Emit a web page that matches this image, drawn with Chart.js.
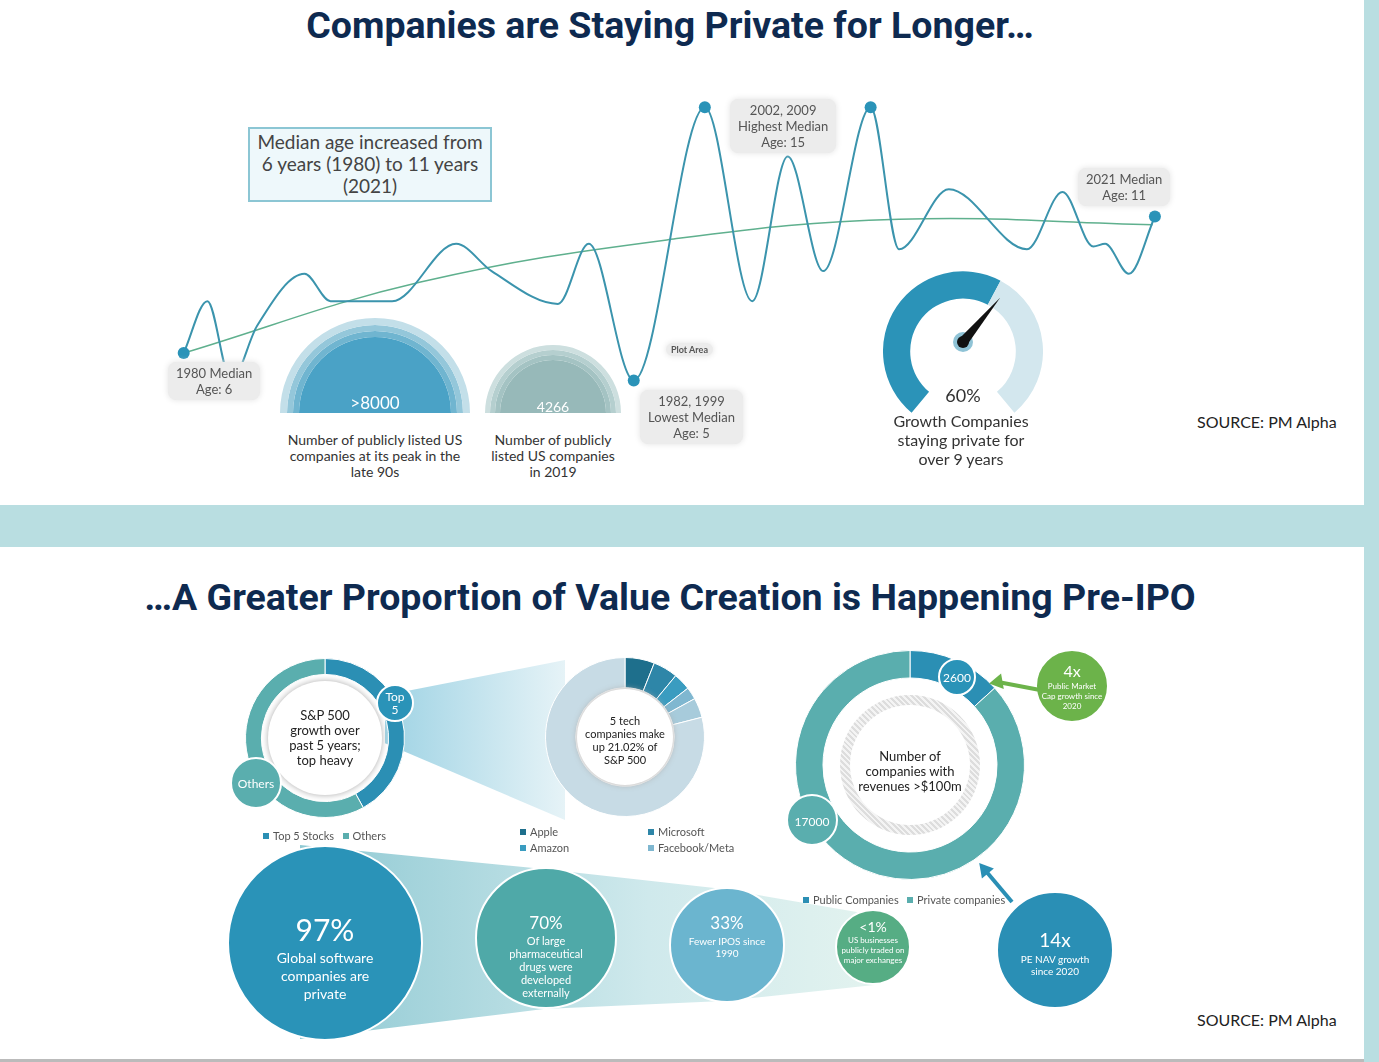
<!DOCTYPE html>
<html>
<head>
<meta charset="utf-8">
<script src="https://cdn.jsdelivr.net/npm/chart.js@4"></script>
<style>
  body { margin: 0; width: 1379px; height: 1062px; position: relative; background: #fff; font-family: Lato, 'Open Sans', sans-serif; overflow: hidden; }
  .abs { position: absolute; }
  .title { position: absolute; left: 0; width: 1340px; text-align: center; font-family: Roboto, sans-serif; font-weight: 700; font-size: 37.5px; color: #0e2a50; }
  .tag { position: absolute; background: #ececec; border-radius: 8px; color: #555; font-size: 13px; text-align: center; line-height: 16px; padding: 3px 8px; box-shadow: 0 0 6px #e2e2e2; }
  .cap { position: absolute; text-align: center; color: #333; font-size: 14px; line-height: 16px; transform: translateX(-50%); }
  .ctr { position: absolute; transform: translate(-50%, -50%); text-align: center; }
  .wt { color: #fff; }
  .leg { position: absolute; font-size: 11px; color: #555; white-space: nowrap; }
  .leg b { display: inline-block; width: 6px; height: 6px; margin-right: 4px; vertical-align: 1px; }
  canvas { position: absolute; }
</style>
</head>
<body>
<div class="abs" style="left:0;top:505px;width:1379px;height:42px;background:#b9dee1"></div>
<div class="abs" style="left:1364px;top:0;width:15px;height:1062px;background:#b9dee1"></div>
<div class="abs" style="left:0;top:1059px;width:1364px;height:3px;background:#bbb"></div>

<div class="title" style="top:3px">Companies are Staying Private for Longer…</div>
<div class="title" style="top:575px">…A Greater Proportion of Value Creation is Happening Pre-IPO</div>

<div class="abs" style="left:1197px;top:412px;font-size:16px;color:#222">SOURCE: PM Alpha</div>
<div class="abs" style="left:1197px;top:1010px;font-size:16px;color:#222">SOURCE: PM Alpha</div>

<!-- top panel -->
<div class="abs" style="left:248px;top:127px;width:240px;height:69px;border:2px solid #8cc6d4;background:#eef8fb;text-align:center;font-size:19px;line-height:22px;color:#444;padding-top:2px">Median age increased from 6 years (1980) to 11 years (2021)</div>

<canvas id="age" style="left:160px;top:90px"></canvas>
<canvas id="peak" style="left:280px;top:318px"></canvas>
<canvas id="now" style="left:485px;top:345px"></canvas>
<canvas id="gauge" style="left:883px;top:262px"></canvas>

<div class="tag" style="left:168px;top:362px">1980 Median<br>Age: 6</div>
<div class="tag" style="left:730px;top:99px">2002, 2009<br>Highest Median<br>Age: 15</div>
<div class="tag" style="left:1078px;top:168px">2021 Median<br>Age: 11</div>
<div class="tag" style="left:640px;top:390px">1982, 1999<br>Lowest Median<br>Age: 5</div>
<div class="tag" style="left:666px;top:343px;font-size:9px;line-height:11px;padding:1px 5px;font-weight:700">Plot Area</div>

<div class="ctr wt" style="left:375px;top:402px;font-size:17px">&gt;8000</div>
<div class="ctr wt" style="left:553px;top:406px;font-size:14px">4266</div>
<div class="cap" style="left:375px;top:432px;width:190px">Number of publicly listed US companies at its peak in the late 90s</div>
<div class="cap" style="left:553px;top:432px;width:130px">Number of publicly listed US companies in 2019</div>
<div class="ctr" style="left:963px;top:395px;font-size:18px;color:#333">60%</div>
<div class="cap" style="left:961px;top:411px;width:150px;font-size:16px;line-height:19px">Growth Companies staying private for over 9 years</div>

<!-- bottom panel: cones -->
<div class="abs" style="left:385px;top:660px;width:180px;height:160px;clip-path:polygon(0 22%,100% 0,100% 100%,0 52%);background:linear-gradient(90deg,#9fd3e4,#e6f3f7)"></div>
<div class="abs" style="left:300px;top:845px;width:580px;height:200px;clip-path:polygon(0 0,42% 12%,73% 22%,99% 35%,99% 70%,73% 78%,42% 82%,0 97%);background:linear-gradient(90deg,#8fc9d3,#cfe9ec 60%,#e3f3ef)"></div>

<canvas id="sp" style="left:245px;top:658px"></canvas>
<canvas id="tech" style="left:545px;top:657px"></canvas>
<canvas id="rev" style="left:795px;top:650px"></canvas>

<div class="abs" style="left:268px;top:681px;width:114px;height:114px;border-radius:50%;background:#fff;box-shadow:0 0 6px #aaa"></div>
<div class="abs" style="left:577px;top:689px;width:96px;height:96px;border-radius:50%;background:#fff;box-shadow:0 0 6px #aaa"></div>
<div class="abs" style="left:840px;top:695px;width:140px;height:140px;border-radius:50%;background:repeating-linear-gradient(45deg,#ddd 0 2px,#f4f4f4 2px 4px)"></div>
<div class="abs" style="left:850px;top:705px;width:120px;height:120px;border-radius:50%;background:#fff"></div>

<canvas id="bubbles" style="left:0;top:547px"></canvas>

<div class="ctr" style="left:325px;top:738px;font-size:13px;line-height:15px;color:#222;width:90px">S&amp;P 500 growth over past 5 years; top heavy</div>
<div class="ctr" style="left:625px;top:740px;font-size:11px;line-height:13px;color:#222;width:80px">5 tech companies make up 21.02% of S&amp;P 500</div>
<div class="ctr" style="left:910px;top:771px;font-size:13px;line-height:15px;color:#222;width:110px">Number of companies with revenues &gt;$100m</div>
<div class="ctr wt" style="left:395px;top:703px;font-size:12px;line-height:13px">Top<br>5</div>
<div class="ctr wt" style="left:256px;top:783px;font-size:12px">Others</div>
<div class="ctr wt" style="left:957px;top:677px;font-size:12px">2600</div>
<div class="ctr wt" style="left:812px;top:821px;font-size:12px">17000</div>
<div class="ctr wt" style="left:1072px;top:686px;font-size:8px;line-height:10px;width:64px"><span style="font-size:16px;line-height:20px">4x</span><br>Public Market Cap growth since 2020</div>
<div class="ctr wt" style="left:1055px;top:952px;font-size:10px;line-height:12px;width:90px"><span style="font-size:19px;line-height:26px">14x</span><br>PE NAV growth since 2020</div>
<div class="ctr wt" style="left:325px;top:956px;font-size:14px;line-height:18px;width:120px"><span style="font-size:30px;line-height:40px">97%</span><br>Global software companies are private</div>
<div class="ctr wt" style="left:546px;top:955px;font-size:11px;line-height:13px;width:90px"><span style="font-size:17px;line-height:22px">70%</span><br>Of large pharmaceutical drugs were developed externally</div>
<div class="ctr wt" style="left:727px;top:935px;font-size:10px;line-height:12px;width:90px"><span style="font-size:17px;line-height:24px">33%</span><br>Fewer IPOS since 1990</div>
<div class="ctr wt" style="left:873px;top:942px;font-size:8px;line-height:10px;width:70px"><span style="font-size:14px;line-height:16px">&lt;1%</span><br>US businesses publicly traded on major exchanges</div>

<div class="leg" style="left:263px;top:829px"><b style="background:#2b8fb4"></b>Top 5 Stocks &nbsp; <b style="background:#5aaeae"></b>Others</div>
<div class="leg" style="left:520px;top:825px"><b style="background:#1e6f8c"></b>Apple</div>
<div class="leg" style="left:520px;top:841px"><b style="background:#3a9cc0"></b>Amazon</div>
<div class="leg" style="left:648px;top:825px"><b style="background:#2e86a8"></b>Microsoft</div>
<div class="leg" style="left:648px;top:841px"><b style="background:#7fb7d0"></b>Facebook/Meta</div>
<div class="leg" style="left:803px;top:893px"><b style="background:#2b8fb4"></b>Public Companies &nbsp; <b style="background:#5aaeae"></b>Private companies</div>

<script>
// median age wave (year, age)
const waveYears = [1980, 1981.0, 1982, 1983.1, 1985.1, 1986.2, 1987.4, 1988.8, 1991.5, 1993.0, 1995.8, 1997.1, 1999, 2002, 2004.0, 2005.5, 2007.0, 2009, 2010.2, 2012.3, 2015.6, 2017.1, 2018.4, 2018.9, 2019.9, 2021];
const waveAges  = [6, 7.9, 5.0, 7.0, 8.9, 7.9, 7.9, 7.9, 10.0, 9.0, 7.8, 10.0, 5.0, 15, 7.9, 13.2, 9.0, 15, 9.8, 12.0, 9.8, 11.9, 9.9, 10.0, 8.9, 11];
const markedYears = [1980, 1999, 2002, 2009, 2021];
const trendYears = [1980, 1990, 2000.9, 2010.2, 2020.9];
const trendAges  = [6, 8.6, 10.2, 10.9, 10.7];

const listedPeak = [1, 1, 1, 1];   // concentric rings of the >8000 half disc
const listedNow = [1, 1, 1, 1];
const gaugeShare = [60, 40];

const spShare = [42, 58];          // Top 5 stocks, others
const techShare = [6.0, 5.0, 3.5, 2.5, 4.0, 79.0];
const revCompanies = [2600, 17000];

const bubbleNames = ['97%', '70%', '33%', '<1%', '14x', '4x', 'Top 5', 'Others', '2600', '17000'];
const bubbleX = [325, 546, 727, 873, 1055, 1072, 395, 256, 957, 812];
const bubbleY = [943, 938, 945, 947, 950, 686, 703, 783, 677, 820];
const bubbleR = [97, 70, 57, 37, 58, 36, 18, 25, 18, 25];
const bubbleColors = ['#2a93b8', '#4fa9a8', '#6bb5cf', '#56ad84', '#2a8fb5', '#6cb34a', '#2a93b8', '#5aaeae', '#2a93b8', '#5aaeae'];
const greenArrowX = [1040, 998], greenArrowY = [690, 682];
const blueArrowX = [1012, 985], blueArrowY = [902, 870];

Chart.defaults.font.family = 'Lato, sans-serif';
const hidden = { display: false };
const quiet = { legend: { display: false }, tooltip: { enabled: false } };
const flat = { autoPadding: false, padding: 0 };

function size(id, w, h) {
  const c = document.getElementById(id);
  c.width = w; c.height = h; c.style.width = w + 'px'; c.style.height = h + 'px';
  return c;
}

new Chart(size('age', 1020, 330), {
  type: 'scatter',
  data: {
    datasets: [{
      data: waveYears.map((x, i) => ({ x, y: waveAges[i] })),
      showLine: true, borderColor: '#3b94ad', borderWidth: 2, cubicInterpolationMode: 'monotone',
      pointRadius: waveYears.map(x => markedYears.includes(x) ? 6 : 0), pointBackgroundColor: '#2a93b8', pointBorderWidth: 0,
    }, {
      data: trendYears.map((x, i) => ({ x, y: trendAges[i] })),
      showLine: true, borderColor: '#5fb08e', borderWidth: 1.5, tension: 0.4, pointRadius: 0,
    }],
  },
  options: {
    responsive: false, animation: false, plugins: quiet, layout: flat,
    scales: { x: { ...hidden, min: 1979.0, max: 2022.06 }, y: { ...hidden, min: 3.55, max: 15.63 } },
  },
});

function rings(id, w, h, colors, weights, values) {
  new Chart(size(id, w, h), {
    type: 'pie',
    data: { datasets: values.map((v, i) => ({ data: [v], backgroundColor: colors[i], borderWidth: 0, weight: weights[i] })) },
    options: { responsive: false, animation: false, plugins: quiet, rotation: -90, circumference: 180 },
  });
}
rings('peak', 190, 95, ['#c3dfe9', '#94c7da', '#70b5d0', '#4aa2c6'], [7, 6, 6, 76], listedPeak);
rings('now', 136, 68, ['#cddfdf', '#b5cfcf', '#a4c3c3', '#97b9b9'], [5, 5, 5, 53], listedNow);

const needle = {
  id: 'needle',
  afterDraw(chart) {
    const ctx = chart.ctx, a = chart.chartArea;
    const cx = (a.left + a.right) / 2, cy = (a.top + a.bottom) / 2;
    const ang = (40 - 90) * Math.PI / 180;
    ctx.save();
    ctx.fillStyle = '#8fc3d6';
    ctx.beginPath(); ctx.arc(cx, cy, 10, 0, Math.PI * 2); ctx.fill();
    ctx.fillStyle = '#111';
    ctx.beginPath();
    ctx.moveTo(cx + 58 * Math.cos(ang), cy + 58 * Math.sin(ang));
    ctx.lineTo(cx + 5 * Math.cos(ang + Math.PI / 2), cy + 5 * Math.sin(ang + Math.PI / 2));
    ctx.lineTo(cx + 5 * Math.cos(ang - Math.PI / 2), cy + 5 * Math.sin(ang - Math.PI / 2));
    ctx.fill();
    ctx.beginPath(); ctx.arc(cx, cy, 6, 0, Math.PI * 2); ctx.fill();
    ctx.restore();
  },
};
new Chart(size('gauge', 160, 160), {
  type: 'doughnut',
  data: { datasets: [{ data: gaugeShare, backgroundColor: ['#2b93b8', '#d3e7ee'], borderWidth: 0 }] },
  options: { responsive: false, animation: false, plugins: quiet, cutout: '66%', rotation: -140, circumference: 280 },
  plugins: [needle],
});

function ring(id, s, data, colors, cutout) {
  new Chart(size(id, s, s), {
    type: 'doughnut',
    data: { datasets: [{ data, backgroundColor: colors, borderWidth: 1, borderColor: '#fff' }] },
    options: { responsive: false, animation: false, plugins: quiet, cutout },
  });
}
ring('sp', 160, spShare, ['#2b8fb4', '#5aaeae'], '80%');
ring('tech', 160, techShare, ['#1e6f8c', '#2e86a8', '#3a9cc0', '#7fb7d0', '#a7cbdb', '#c7dbe5'], '62%');
ring('rev', 230, revCompanies, ['#2b8fb4', '#5aaeae'], '76%');

new Chart(size('bubbles', 1379, 515), {
  data: {
    datasets: [{
      type: 'line', data: greenArrowX.map((x, i) => ({ x, y: greenArrowY[i] })),
      borderColor: '#6cb34a', borderWidth: 4, pointStyle: 'triangle', pointRadius: [0, 9], pointRotation: -100,
      pointBackgroundColor: '#6cb34a', pointBorderWidth: 0,
    }, {
      type: 'line', data: blueArrowX.map((x, i) => ({ x, y: blueArrowY[i] })),
      borderColor: '#2a8fb5', borderWidth: 4, pointStyle: 'triangle', pointRadius: [0, 9], pointRotation: -40,
      pointBackgroundColor: '#2a8fb5', pointBorderWidth: 0,
    }, {
      type: 'bubble',
      data: bubbleX.map((x, i) => ({ x, y: bubbleY[i], r: bubbleR[i] })),
      backgroundColor: bubbleColors, borderColor: '#fff', borderWidth: 2,
    }],
  },
  options: {
    responsive: false, animation: false, plugins: quiet, layout: flat,
    scales: { x: { type: 'linear', ...hidden, min: 0, max: 1379 }, y: { ...hidden, min: 547, max: 1062, reverse: true } },
  },
});
</script>
</body>
</html>
